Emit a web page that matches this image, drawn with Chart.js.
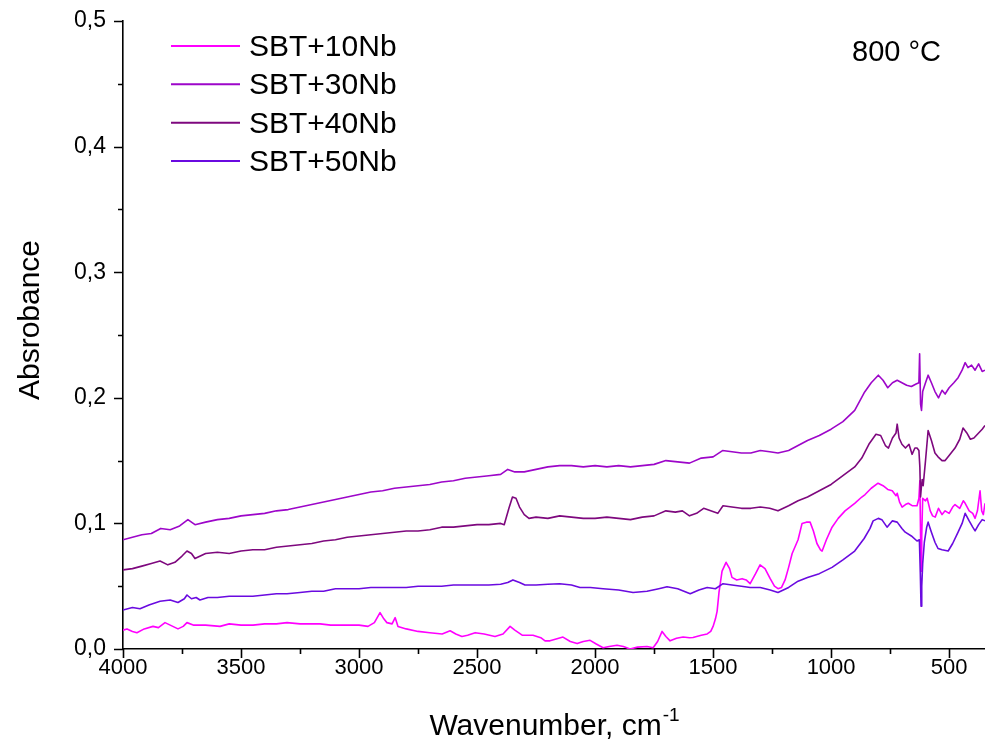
<!DOCTYPE html>
<html>
<head>
<meta charset="utf-8">
<script src="https://cdn.jsdelivr.net/npm/chart.js@4.4.1/dist/chart.umd.min.js"></script>
<style>
  html, body { margin: 0; padding: 0; background: #fff; }
  #wrap { width: 985px; height: 749px; position: relative; }
</style>
</head>
<body>
<div id="wrap"><canvas id="c" width="985" height="749"></canvas></div>
<script>
// FTIR absorbance spectra of SBT ceramics doped with Nb, annealed at 800 °C
const seriesNames = ['SBT+10Nb', 'SBT+30Nb', 'SBT+40Nb', 'SBT+50Nb'];
const seriesColors = ['#ff00ff', '#9d06c9', '#7e087e', '#6a0ae0'];
const annotationText = '800 °C';
const xTitle = 'Wavenumber, cm';
const xTitleSup = '-1';
const yTitle = 'Absrobance';

// x-axis tick values (cm-1) and y-axis tick values
const xMajorTicks = [4000, 3500, 3000, 2500, 2000, 1500, 1000, 500];
const xMinorTicks = [3750, 3250, 2750, 2250, 1750, 1250, 750];
const yMajorTicks = [0, 0.1, 0.2, 0.3, 0.4, 0.5];
const yMinorTicks = [0.05, 0.15, 0.25, 0.35, 0.45];

// SBT+10Nb
const wn10 = [4000,3983,3960,3941,3910,3873,3850,3822,3800,3767,3745,3729,3700,3650,3589,3550,3500,3449,3400,3350,3305,3250,3200,3165,3120,3081,3040,3000,2962,2935,2911,2895,2882,2860,2847,2835,2800,2750,2700,2648,2614,2590,2564,2540,2508,2470,2424,2390,2360,2340,2309,2263,2230,2212,2191,2165,2136,2105,2076,2050,2021,1995,1966,1940,1907,1880,1852,1820,1780,1754,1735,1716,1700,1682,1655,1627,1600,1585,1550,1525,1510,1500,1490,1483,1475,1462,1445,1430,1420,1400,1377,1360,1343,1320,1301,1280,1258,1240,1225,1210,1195,1180,1165,1140,1123,1105,1089,1075,1060,1045,1038,1020,996,970,941,900,870,856,830,801,780,760,741,725,720,710,699,685,673,655,636,628,624,621,619,616,612,600,593,580,570,559,545,530,517,500,485,475,455,440,432,415,400,390,380,369,362,355,348];
const abs10 = [0.015,0.016,0.014,0.013,0.016,0.018,0.017,0.021,0.019,0.016,0.018,0.021,0.019,0.019,0.018,0.020,0.019,0.019,0.020,0.020,0.021,0.020,0.020,0.020,0.019,0.019,0.019,0.019,0.018,0.021,0.029,0.024,0.021,0.020,0.025,0.018,0.016,0.014,0.013,0.012,0.0145,0.012,0.010,0.011,0.013,0.012,0.010,0.012,0.018,0.015,0.011,0.011,0.009,0.0065,0.0065,0.008,0.0095,0.006,0.0043,0.006,0.0069,0.004,0.001,0.002,0.003,0.002,0.000,0.0015,0.002,0.001,0.006,0.014,0.010,0.0065,0.0085,0.0096,0.009,0.0092,0.011,0.012,0.014,0.018,0.024,0.030,0.045,0.062,0.069,0.064,0.057,0.055,0.056,0.055,0.052,0.060,0.067,0.064,0.056,0.050,0.048,0.049,0.055,0.065,0.076,0.087,0.100,0.101,0.101,0.094,0.084,0.079,0.078,0.087,0.097,0.104,0.110,0.116,0.121,0.123,0.128,0.132,0.130,0.127,0.126,0.122,0.124,0.117,0.113,0.115,0.116,0.114,0.114,0.120,0.134,0.090,0.062,0.090,0.120,0.118,0.120,0.110,0.106,0.105,0.112,0.107,0.110,0.108,0.113,0.115,0.112,0.118,0.116,0.110,0.108,0.104,0.110,0.126,0.110,0.107,0.116];

// SBT+30Nb
const wn30 = [4000,3960,3920,3880,3840,3800,3760,3725,3695,3650,3600,3550,3500,3450,3400,3350,3300,3250,3200,3150,3100,3050,3000,2950,2900,2850,2800,2750,2700,2650,2600,2550,2500,2450,2400,2370,2340,2300,2250,2200,2150,2100,2050,2000,1950,1900,1850,1800,1750,1700,1650,1600,1550,1500,1460,1420,1380,1340,1300,1260,1225,1180,1140,1100,1050,1000,950,900,860,830,800,780,760,740,720,700,680,660,640,628,625,621,617,612,600,589,575,560,545,530,517,500,480,462,445,432,420,405,390,375,360,348];
const abs30 = [0.087,0.089,0.091,0.092,0.096,0.095,0.098,0.103,0.099,0.101,0.103,0.104,0.106,0.107,0.108,0.110,0.111,0.113,0.115,0.117,0.119,0.121,0.123,0.125,0.126,0.128,0.129,0.130,0.131,0.133,0.134,0.136,0.137,0.138,0.139,0.143,0.141,0.141,0.143,0.145,0.146,0.146,0.145,0.146,0.145,0.146,0.145,0.146,0.147,0.150,0.149,0.148,0.152,0.153,0.158,0.157,0.156,0.156,0.158,0.157,0.156,0.158,0.162,0.166,0.170,0.175,0.181,0.190,0.204,0.212,0.218,0.214,0.208,0.212,0.214,0.212,0.210,0.209,0.211,0.212,0.235,0.195,0.190,0.205,0.212,0.218,0.212,0.205,0.200,0.206,0.203,0.208,0.212,0.216,0.222,0.228,0.224,0.226,0.222,0.227,0.221,0.222];

// SBT+40Nb
const wn40 = [4000,3960,3920,3880,3843,3810,3780,3750,3729,3710,3695,3650,3600,3550,3500,3450,3400,3350,3300,3250,3200,3150,3100,3050,3000,2950,2900,2850,2800,2750,2700,2650,2600,2550,2500,2450,2400,2385,2365,2350,2335,2320,2300,2280,2250,2200,2150,2100,2050,2000,1950,1900,1850,1800,1750,1700,1660,1630,1600,1570,1540,1510,1480,1458,1420,1380,1340,1300,1260,1225,1180,1140,1100,1050,1000,950,900,870,840,810,790,770,757,740,725,720,712,700,685,670,657,645,636,628,624,621,618,614,610,600,589,575,560,547,530,517,500,475,455,441,425,410,395,375,360,348];
const abs40 = [0.063,0.064,0.066,0.068,0.070,0.067,0.069,0.074,0.078,0.076,0.072,0.076,0.077,0.076,0.078,0.079,0.079,0.081,0.082,0.083,0.084,0.086,0.087,0.089,0.090,0.091,0.092,0.093,0.094,0.094,0.095,0.097,0.097,0.098,0.099,0.099,0.100,0.099,0.112,0.121,0.120,0.113,0.107,0.104,0.105,0.104,0.106,0.105,0.104,0.104,0.105,0.104,0.103,0.105,0.106,0.110,0.109,0.110,0.106,0.108,0.112,0.110,0.108,0.114,0.113,0.112,0.112,0.113,0.112,0.110,0.114,0.118,0.121,0.126,0.131,0.138,0.145,0.152,0.163,0.171,0.170,0.162,0.160,0.168,0.172,0.179,0.168,0.163,0.160,0.163,0.155,0.160,0.160,0.158,0.145,0.121,0.128,0.135,0.130,0.150,0.174,0.166,0.156,0.153,0.150,0.150,0.154,0.160,0.167,0.176,0.172,0.167,0.168,0.172,0.175,0.178];

// SBT+50Nb
const wn50 = [4000,3960,3928,3890,3843,3800,3767,3740,3729,3710,3690,3674,3640,3600,3550,3500,3450,3400,3350,3305,3250,3200,3150,3100,3050,3000,2950,2900,2850,2800,2750,2700,2650,2600,2550,2500,2450,2400,2370,2348,2320,2297,2250,2200,2150,2100,2064,2020,1966,1900,1839,1780,1730,1695,1650,1597,1560,1525,1490,1458,1420,1380,1343,1300,1258,1225,1180,1140,1100,1050,996,950,900,860,835,822,800,785,763,741,720,700,686,660,636,626,622,619,616,612,605,595,589,575,560,547,530,504,485,462,445,432,415,400,390,375,360,348];
const abs50 = [0.031,0.033,0.032,0.035,0.038,0.039,0.037,0.040,0.043,0.040,0.041,0.039,0.041,0.041,0.042,0.042,0.042,0.043,0.044,0.044,0.045,0.046,0.046,0.048,0.048,0.048,0.049,0.049,0.049,0.049,0.050,0.050,0.050,0.051,0.051,0.051,0.051,0.0515,0.053,0.055,0.053,0.051,0.051,0.0515,0.052,0.051,0.049,0.049,0.048,0.047,0.045,0.046,0.048,0.0495,0.048,0.044,0.047,0.049,0.048,0.052,0.051,0.050,0.049,0.049,0.047,0.045,0.049,0.054,0.057,0.060,0.065,0.071,0.078,0.088,0.096,0.102,0.104,0.103,0.097,0.102,0.101,0.096,0.093,0.090,0.086,0.087,0.060,0.034,0.050,0.068,0.085,0.097,0.101,0.093,0.085,0.080,0.079,0.078,0.084,0.093,0.100,0.108,0.102,0.097,0.094,0.099,0.103,0.102];

const seriesWn = [wn10, wn30, wn40, wn50];
const seriesAbs = [abs10, abs30, abs40, abs50];

const FONT = "'Liberation Sans', Arial, Helvetica, sans-serif";

const datasets = seriesNames.map((name, i) => ({
  label: name,
  data: seriesWn[i].map((x, k) => ({ x: x, y: seriesAbs[i][k] })),
  borderColor: seriesColors[i],
  backgroundColor: seriesColors[i],
  borderWidth: 1.6,
  pointRadius: 0,
  tension: 0,
  fill: false,
  order: seriesNames.length - 1 - i
}));

const isMajorX = v => xMajorTicks.includes(v);
const isMajorY = v => yMajorTicks.some(t => Math.abs(t - v) < 1e-9);

// axis tick marks, axis titles, legend and temperature label
const decorations = {
  id: 'decorations',
  afterDraw(chart) {
    const ctx = chart.ctx;
    const xs = chart.scales.x, ys = chart.scales.y;
    const area = chart.chartArea;
    ctx.save();
    ctx.strokeStyle = '#000';
    ctx.lineWidth = 1.6;
    ctx.beginPath();
    xMajorTicks.concat(xMinorTicks).forEach(v => {
      const px = Math.round(xs.getPixelForValue(v)) + 0.5;
      const len = isMajorX(v) ? 9 : 5;
      ctx.moveTo(px, area.bottom);
      ctx.lineTo(px, area.bottom + len);
    });
    yMajorTicks.concat(yMinorTicks).forEach(v => {
      const py = Math.round(ys.getPixelForValue(v)) + 0.5;
      const len = isMajorY(v) ? 9 : 5;
      ctx.moveTo(area.left, py);
      ctx.lineTo(area.left - len, py);
    });
    ctx.stroke();

    ctx.fillStyle = '#000';
    // x-axis title with superscript
    ctx.font = '30px ' + FONT;
    ctx.textBaseline = 'alphabetic';
    ctx.textAlign = 'left';
    const mainW = ctx.measureText(xTitle).width;
    ctx.font = '19px ' + FONT;
    const supW = ctx.measureText(xTitleSup).width;
    const cx = (area.left + area.right) / 2;
    const startX = cx - (mainW + supW) / 2;
    ctx.font = '30px ' + FONT;
    ctx.fillText(xTitle, startX, 735);
    ctx.font = '19px ' + FONT;
    ctx.fillText(xTitleSup, startX + mainW + 1, 721);

    // y-axis title
    ctx.save();
    ctx.translate(39, 320);
    ctx.rotate(-Math.PI / 2);
    ctx.font = '30px ' + FONT;
    ctx.textAlign = 'center';
    ctx.fillText(yTitle, 0, 0);
    ctx.restore();

    // legend
    const rowY = [46, 84.3, 122.7, 161];
    chart.data.datasets.forEach((ds, i) => {
      ctx.strokeStyle = ds.borderColor;
      ctx.lineWidth = 2;
      ctx.beginPath();
      ctx.moveTo(171, rowY[i]);
      ctx.lineTo(240, rowY[i]);
      ctx.stroke();
      ctx.fillStyle = '#000';
      ctx.font = '30px ' + FONT;
      ctx.textAlign = 'left';
      ctx.textBaseline = 'alphabetic';
      ctx.fillText(ds.label, 249, rowY[i] + 10);
    });

    // temperature label
    ctx.font = '29px ' + FONT;
    ctx.fillText(annotationText, 852, 61);
    ctx.restore();
  }
};

new Chart(document.getElementById('c'), {
  type: 'line',
  data: { datasets: datasets },
  options: {
    responsive: false,
    animation: false,
    devicePixelRatio: 1,
    layout: { padding: { top: 21, right: 0, bottom: 0, left: 0 } },
    plugins: { legend: { display: false }, tooltip: { enabled: false } },
    elements: { line: { borderJoinStyle: 'round' } },
    scales: {
      x: {
        type: 'linear',
        reverse: true,
        min: 348,
        max: 4000,
        afterBuildTicks: axis => { axis.ticks = xMajorTicks.map(v => ({ value: v })); },
        afterFit: s => {
          s.height = 100;
          s.paddingLeft = 0; s.paddingRight = 0;
        },
        ticks: {
          autoSkip: false,
          maxRotation: 0,
          color: '#000',
          padding: 6,
          font: { family: FONT, size: 22 },
          callback: v => String(v)
        },
        grid: { display: false, drawTicks: false },
        border: { display: true, color: '#000', width: 1.6 }
      },
      y: {
        type: 'linear',
        min: 0,
        max: 0.5,
        afterBuildTicks: axis => { axis.ticks = yMajorTicks.map(v => ({ value: v })); },
        afterFit: s => {
          s.width = 123;
          s.paddingTop = 0; s.paddingBottom = 0;
        },
        ticks: {
          autoSkip: false,
          color: '#000',
          padding: 17,
          font: { family: FONT, size: 23 },
          callback: v => v.toFixed(1).replace('.', ',')
        },
        grid: { display: false, drawTicks: false },
        border: { display: true, color: '#000', width: 1.6 }
      }
    }
  },
  plugins: [decorations]
});
</script>
</body>
</html>
